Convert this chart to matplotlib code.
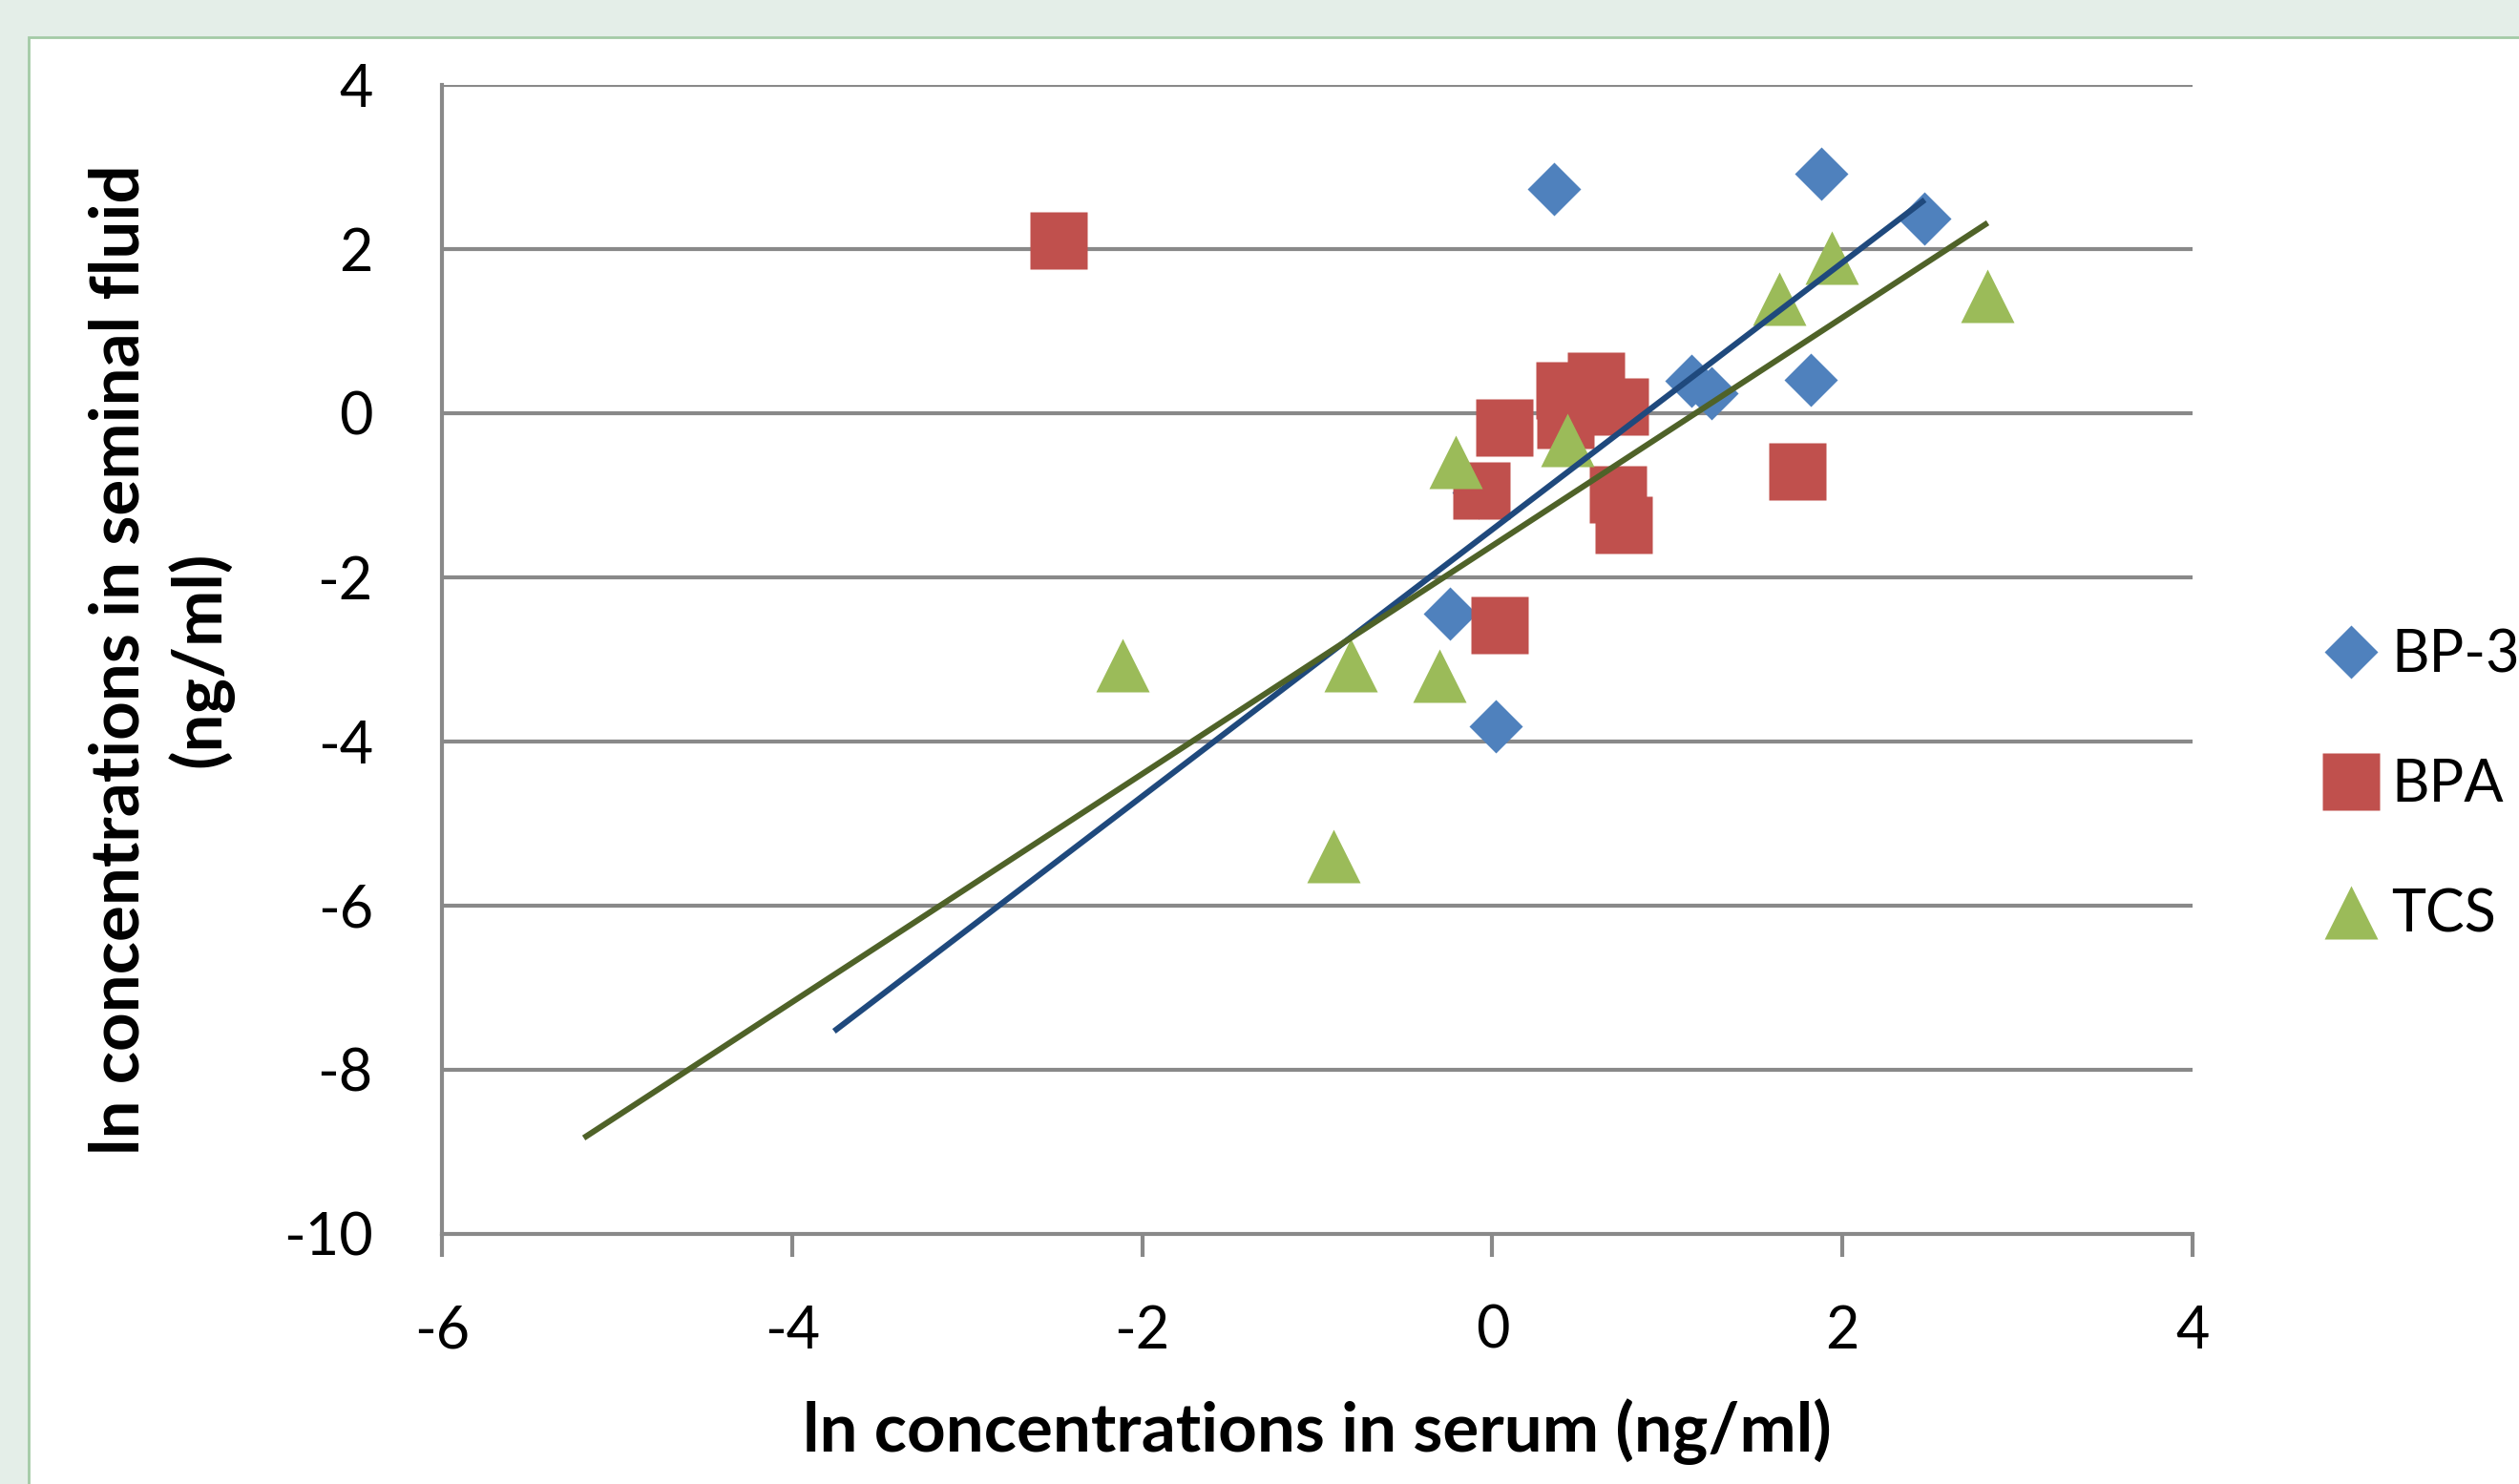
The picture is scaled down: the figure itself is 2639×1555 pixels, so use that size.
import matplotlib
matplotlib.use('Agg')
import matplotlib.pyplot as plt
from matplotlib.patches import Rectangle

# values (ln ng/ml)
bp3_x = [0.35, 1.88, 2.47, 1.14, 1.25, 1.82, -0.08, -0.24, 0.02]
bp3_y = [2.73, 2.92, 2.37, 0.39, 0.24, 0.41, -0.97, -2.44, -3.81]

bpa_x = [-2.48, 0.07, 0.41, 0.59, 0.73, 0.42, -0.06, 0.72, 0.75, 1.74, 0.04]
bpa_y = [2.10, -0.17, 0.28, 0.40, 0.08, -0.08, -0.94, -0.99, -1.36, -0.71, -2.58]

tcs_x = [-0.21, 0.43, 1.64, 1.94, 2.83, -2.11, -0.81, -0.30, -0.91]
tcs_y = [-0.59, -0.33, 1.39, 1.89, 1.43, -3.07, -3.07, -3.20, -5.39]

# linear trendlines (end points)
trend_bp3_x = [-3.76, 2.47]
trend_bp3_y = [-7.53, 2.60]
trend_tcs_x = [-5.19, 2.83]
trend_tcs_y = [-8.83, 2.32]

x_ticks = [-6, -4, -2, 0, 2, 4]
y_ticks = [4, 2, 0, -2, -4, -6, -8, -10]

plt.rcParams['font.family'] = ['Lato', 'DejaVu Sans']

W, H = 2639, 1555
fig = plt.figure(figsize=(W / 100, H / 100), dpi=100)
fig.patch.set_facecolor('#e4eee8')
# white chart panel with thin green border
panel = Rectangle((30 / W, -0.01), 1.0, 1 - 39 / H + 0.01, transform=fig.transFigure,
                  facecolor='white', edgecolor='#a3cba6', linewidth=2, zorder=-10)
fig.patches.append(panel)

ax = fig.add_axes([463 / W, 1 - 1293 / H, (2297 - 463) / W, (1293 - 89) / H])
ax.set_facecolor('none')

grid_c = '#898989'
for yv in y_ticks:
    if yv != -10:
        ax.axhline(yv, color=grid_c, lw=3.0, zorder=1)

ax.plot(bp3_x, bp3_y, linestyle='none', marker='D', ms=29, color='#4f81bd', mec='none', label='BP-3', zorder=3)
ax.plot(bpa_x, bpa_y, linestyle='none', marker='s', ms=43, color='#c0504d', mec='none', label='BPA', zorder=4)
ax.plot(tcs_x, tcs_y, linestyle='none', marker='^', ms=40, color='#9bbb59', mec='none', label='TCS', zorder=5)

ax.plot(trend_bp3_x, trend_bp3_y, color='#1f497d', lw=4.4, zorder=6, solid_capstyle='butt')
ax.plot(trend_tcs_x, trend_tcs_y, color='#4f6228', lw=4.4, zorder=7, solid_capstyle='butt')

ax.set_xlim(-6, 4)
ax.set_ylim(-10, 4)
ax.set_xticks(x_ticks)
ax.set_yticks(y_ticks)
ax.set_xticklabels([str(v) for v in x_ticks])
ax.set_yticklabels([str(v) for v in y_ticks])

for s in ['top', 'right']:
    ax.spines[s].set_visible(False)
for s in ['left', 'bottom']:
    ax.spines[s].set_color(grid_c)
    ax.spines[s].set_linewidth(3.0)

ax.tick_params(axis='x', length=17, width=3.0, color=grid_c, pad=36, labelsize=44)
ax.tick_params(axis='y', length=0, pad=52, labelsize=44)

ax.set_xlabel('ln concentrations in serum (ng/ml)', fontsize=51, fontweight='bold', labelpad=30)
ax.set_ylabel('ln concentrations in seminal fluid\n(ng/ml)', fontsize=51, fontweight='bold',
              labelpad=38, linespacing=1.3)

ax.legend(loc='center left', bbox_to_anchor=(2432 / W, 1 - 823 / H), bbox_transform=fig.transFigure,
          frameon=False, fontsize=44, numpoints=1, handlelength=1.0, handletextpad=0.2,
          labelspacing=1.3, borderpad=0, borderaxespad=0)

plt.savefig('out.png', dpi=100, facecolor=fig.get_facecolor())
